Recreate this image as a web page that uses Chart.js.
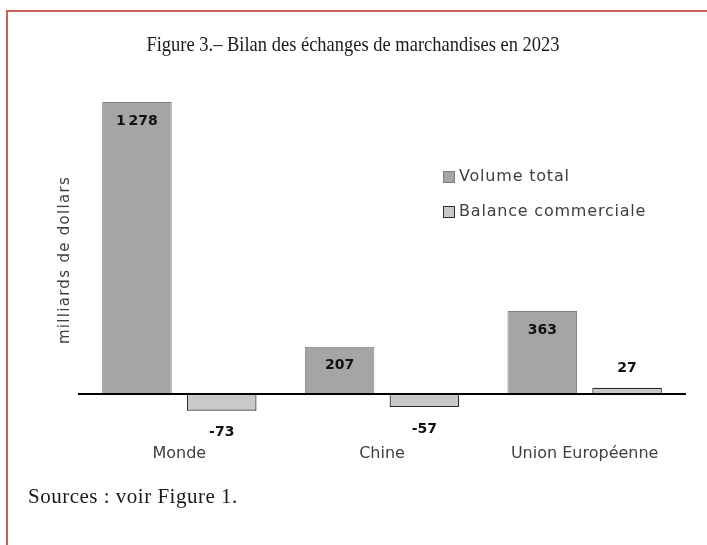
<!DOCTYPE html>
<html>
<head>
<meta charset="utf-8">
<script src="https://cdn.jsdelivr.net/npm/chart.js@4.4.1/dist/chart.umd.min.js"></script>
<style>
  html, body { margin: 0; padding: 0; background: #fff; overflow: hidden; }
  #wrap { position: relative; width: 707px; height: 545px; }
  #frame { position: absolute; left: 6px; top: 10px; width: 720px; height: 560px;
           border-top: 2px solid #c9605c; border-left: 2px solid #c9605c; }
  canvas { position: absolute; left: 0; top: 0; }
</style>
</head>
<body>
<div id="wrap">
  <div id="frame"></div>
  <canvas id="chart" width="707" height="545"></canvas>
</div>
<script>
// chart data
const categories = ['Monde', 'Chine', 'Union Européenne'];
const volumeTotal = [1278, 207, 363];
const balanceCommerciale = [-73, -57, 27];
const seriesNames = ['Volume total', 'Balance commerciale'];

const chartTitle = 'Figure 3.– Bilan des échanges de marchandises en 2023';
const yTitle = 'milliards de dollars';
const sourceNote = 'Sources : voir Figure 1.';

const sansFont = '"DejaVu Sans", sans-serif';
const serifFont = '"Liberation Serif", serif';

function fmt(v) {
    // french style thousands separator
    return String(v).replace(/\B(?=(\d{3})+(?!\d))/g, '\u2009');
}

// value labels, zero line, legend and texts
const extras = {
    id: 'extras',
    afterDatasetsDraw(chart) {
        const ctx = chart.ctx;
        const area = chart.chartArea;
        const y0 = chart.scales.y.getPixelForValue(0);

        ctx.save();
        ctx.strokeStyle = '#000';
        ctx.lineWidth = 2;
        ctx.beginPath();
        ctx.moveTo(area.left, y0);
        ctx.lineTo(area.right, y0);
        ctx.stroke();

        ctx.fillStyle = '#111';
        ctx.font = 'bold 14px ' + sansFont;
        ctx.textAlign = 'center';
        ctx.textBaseline = 'middle';
        chart.data.datasets.forEach((ds, di) => {
            chart.getDatasetMeta(di).data.forEach((bar, i) => {
                const v = ds.data[i];
                let y;
                if (v < 0) y = bar.y + 22;
                else if (bar.base - bar.y > 30) y = bar.y + 19;
                else y = bar.y - 19;
                ctx.fillText(fmt(v), bar.x, y);
            });
        });
        ctx.restore();
    },
    afterDraw(chart) {
        const ctx = chart.ctx;
        ctx.save();
        // title (narrow serif look)
        ctx.save();
        ctx.fillStyle = '#1a1a1a';
        ctx.font = '22px ' + serifFont;
        ctx.textAlign = 'center';
        ctx.textBaseline = 'middle';
        ctx.translate(353, 45);
        ctx.scale(0.84, 1);
        ctx.fillText(chartTitle, 0, 0);
        ctx.restore();

        // source
        ctx.fillStyle = '#1a1a1a';
        ctx.textBaseline = 'middle';
        ctx.textAlign = 'left';
        ctx.font = '21px ' + serifFont;
        ctx.letterSpacing = '0.5px';
        ctx.fillText(sourceNote, 28, 497);

        // y title
        ctx.save();
        ctx.translate(65, 260);
        ctx.rotate(-Math.PI / 2);
        ctx.textAlign = 'center';
        ctx.fillStyle = '#404040';
        ctx.font = '15px ' + sansFont;
        ctx.letterSpacing = '1.3px';
        ctx.fillText(yTitle, 0, 0);
        ctx.restore();

        // legend
        ctx.font = '16px ' + sansFont;
        ctx.letterSpacing = '0.8px';
        chart.data.datasets.forEach((ds, di) => {
            const y = 177 + di * 35;
            ctx.fillStyle = ds.backgroundColor;
            ctx.strokeStyle = ds.borderColor;
            ctx.lineWidth = 1;
            ctx.fillRect(443.5, y - 5.5, 11, 11);
            ctx.strokeRect(443.5, y - 5.5, 11, 11);
            ctx.fillStyle = '#404040';
            ctx.fillText(ds.label, 459, y);
        });
        ctx.restore();
    }
};

const ctx = document.getElementById('chart').getContext('2d');
new Chart(ctx, {
    type: 'bar',
    data: {
        labels: categories,
        datasets: [{
            label: seriesNames[0],
            data: volumeTotal,
            backgroundColor: '#a5a5a5',
            borderColor: '#7f7f7f',
            borderWidth: 1,
            categoryPercentage: 0.837,
            barPercentage: 0.82
        }, {
            label: seriesNames[1],
            data: balanceCommerciale,
            backgroundColor: '#c9c9c9',
            borderColor: '#2b2b2b',
            borderWidth: 1.2,
            categoryPercentage: 0.837,
            barPercentage: 0.82
        }]
    },
    options: {
        responsive: false,
        animation: false,
        layout: { padding: { left: 78, right: 21, top: 102, bottom: 55 } },
        plugins: {
            legend: { display: false },
            title: { display: false },
            tooltip: { enabled: false }
        },
        scales: {
            x: {
                grid: { display: false, drawTicks: false },
                border: { display: false },
                ticks: {
                    color: '#404040',
                    font: { family: sansFont, size: 16 },
                    padding: 27
                }
            },
            y: {
                display: false,
                min: -100,
                max: 1278
            }
        }
    },
    plugins: [extras]
});
</script>
</body>
</html>
